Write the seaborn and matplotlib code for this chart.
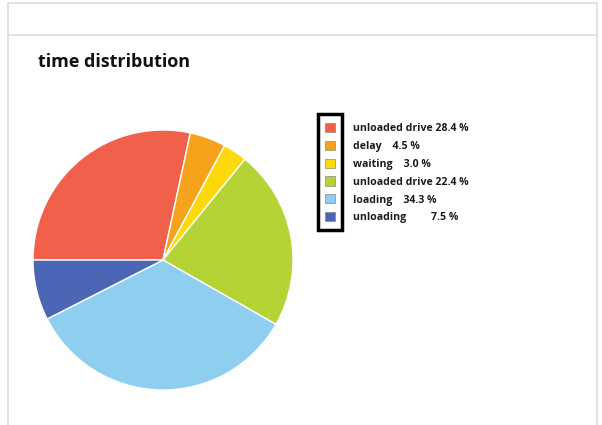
import matplotlib
matplotlib.use("Agg")
import matplotlib.pyplot as plt
from matplotlib.patches import Rectangle
from matplotlib.lines import Line2D
import seaborn as sns

# ---- data ----
categories = ["unloaded drive", "delay", "waiting", "unloaded drive", "loading", "unloading"]
values = [28.4, 4.5, 3.0, 22.4, 34.3, 7.5]
label_gaps = [" ", "    ", "    ", " ", "    ", "         "]
colors = ["#F0604A", "#F7A21B", "#FDD80B", "#B5D334", "#8ECFF0", "#4A66B5"]
title = "time distribution"

sns.set_theme(style="white")
plt.rcParams['font.family'] = ['Open Sans', 'DejaVu Sans']

W, H = 602, 425
fig = plt.figure(figsize=(W / 100, H / 100), dpi=100)

# panel frame
def px(x, y):
    return x / W, 1 - y / H

frame = Rectangle(px(8, 428), (597 - 8) / W, (428 - 3) / H, transform=fig.transFigure,
                  fill=False, edgecolor="#DDDDDD", linewidth=1.2)
fig.patches.append(frame)
fig.lines.append(Line2D([8 / W, 597 / W], [1 - 35 / H, 1 - 35 / H], transform=fig.transFigure,
                        color="#DDDDDD", linewidth=1.2))

fig.text(38 / W, 1 - 62 / H, title, fontsize=13, fontweight="bold", color="#111111",
         ha="left", va="center")

# pie
cx, cy, r = 163, 260, 130
ax = fig.add_axes([(cx - r) / W, (H - cy - r) / H, 2 * r / W, 2 * r / H])
wedges, _ = ax.pie(values, colors=colors, startangle=180, counterclock=False,
                   wedgeprops=dict(edgecolor="white", linewidth=1.0))
ax.set_xlim(-1.0, 1.0)
ax.set_ylim(-1.0, 1.0)
ax.set_aspect("equal")
ax.axis("off")

labels = [f"{c}{g}{v:.1f} %" for c, g, v in zip(categories, label_gaps, values)]
handles = [Rectangle((0, 0), 1, 1, facecolor=c, edgecolor="#888888", linewidth=0.5) for c in colors]
leg = fig.legend(handles, labels, loc="upper left", bbox_to_anchor=(325 / W, 1 - 123 / H),
                 frameon=False, fontsize=7.6, handlelength=0.95, handleheight=0.95,
                 handletextpad=1.7, labelspacing=0.63, borderpad=0, borderaxespad=0)
for t in leg.get_texts():
    t.set_fontweight("bold")
    t.set_color("#1a1a1a")

fig.canvas.draw()
renderer = fig.canvas.get_renderer()
bbs = [h.get_window_extent(renderer) for h in leg.legend_handles]
x0 = min(b.x0 for b in bbs); x1 = max(b.x1 for b in bbs)
y0 = min(b.y0 for b in bbs); y1 = max(b.y1 for b in bbs)
padx, pady = 7, 9
box = Rectangle(((x0 - padx) / W, (y0 - pady) / H), (x1 - x0 + 2 * padx) / W, (y1 - y0 + 2 * pady) / H,
                transform=fig.transFigure, fill=False, edgecolor="black", linewidth=2.5)
fig.patches.append(box)

fig.savefig("out.png", dpi=100)
